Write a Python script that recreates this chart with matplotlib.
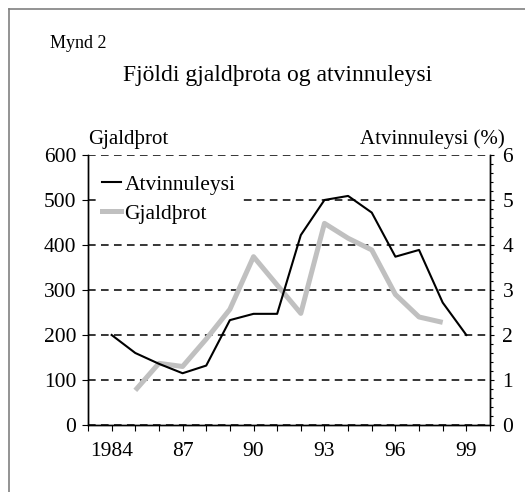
import matplotlib
matplotlib.use("Agg")
import matplotlib.pyplot as plt
from matplotlib.lines import Line2D
from matplotlib.ticker import MultipleLocator

plt.rcParams['font.family'] = ['Liberation Serif', 'DejaVu Serif']

# Atvinnuleysi (%), right axis
years_atv = [1984, 1985, 1986, 1987, 1988, 1989, 1990, 1991, 1992,
             1993, 1994, 1995, 1996, 1997, 1998, 1999]
atvinnuleysi = [2.0, 1.6, 1.36, 1.15, 1.32, 2.33, 2.47, 2.47, 4.22,
                5.0, 5.09, 4.72, 3.74, 3.89, 2.72, 2.0]

# Gjaldþrot, left axis
years_gj = [1985, 1986, 1987, 1988, 1989, 1990, 1991, 1992,
            1993, 1994, 1995, 1996, 1997, 1998]
gjaldthrot = [77, 137, 130, 191, 257, 374, 311, 248,
              448, 415, 389, 290, 240, 228]

xtick_pos = [1984, 1987, 1990, 1993, 1996, 1999]
xtick_lab = ["1984", "87", "90", "93", "96", "99"]

fig = plt.figure(figsize=(5.25, 4.92), dpi=100)
ax = fig.add_axes([0.1676, 0.1362, 0.7657, 0.5488])
ax2 = ax.twinx()

ax.plot(years_gj, gjaldthrot, color="#c0c0c0", lw=3.6, solid_capstyle="butt")
ax2.plot(years_atv, atvinnuleysi, color="black", lw=1.5)

ax.set_xlim(1983, 2000)
ax.set_ylim(0, 600)
ax2.set_ylim(0, 6)

ax.set_yticks(range(0, 601, 100))
ax.set_xticks(range(1983, 2001))
ax.set_xticklabels(["" if y not in xtick_pos else xtick_lab[xtick_pos.index(y)]
                    for y in range(1983, 2001)])
ax2.set_yticks(range(0, 7))
ax2.yaxis.set_minor_locator(MultipleLocator(0.2))

ax.grid(axis="y", color="black", lw=1.1, linestyle=(0, (5, 3.5)))
ax.set_axisbelow(True)

for a in (ax, ax2):
    a.spines["top"].set_visible(False)
    for s in ("left", "right", "bottom"):
        a.spines[s].set_linewidth(1.0)

ax.tick_params(axis="y", direction="out", length=4.5, width=0.8, labelsize=15.5, pad=4)
ax.tick_params(axis="x", direction="out", length=4.5, width=0.8, labelsize=15.5, pad=8)
ax2.tick_params(axis="y", which="major", direction="out", length=3, width=0.8,
                labelsize=15.5, pad=6)
ax2.tick_params(axis="y", which="minor", direction="out", length=2, width=0.8)

handles = [Line2D([], [], color="black", lw=1.5),
           Line2D([], [], color="#c0c0c0", lw=3.6)]
leg = ax2.legend(handles, ["Atvinnuleysi", "Gjaldþrot"], loc="upper left",
                 bbox_to_anchor=(-0.008, 0.99), fontsize=15.5, frameon=True,
                 handlelength=0.9, handletextpad=0.15, labelspacing=0.4,
                 borderaxespad=0.5, borderpad=0.3)
leg.get_frame().set_facecolor("white")
leg.get_frame().set_edgecolor("none")
leg.get_frame().set_alpha(1)

fig.text(88 / 525, 1 - 144 / 492, "Gjaldþrot", fontsize=15, ha="left", va="baseline")
fig.text(505 / 525, 1 - 144 / 492, "Atvinnuleysi (%)", fontsize=15, ha="right", va="baseline")
fig.text(50 / 525, 1 - 48 / 492, "Mynd 2", fontsize=13, ha="left", va="baseline")
fig.text(278 / 525, 1 - 81 / 492, "Fjöldi gjaldþrota og atvinnuleysi", fontsize=17,
         ha="center", va="baseline")

# outer frame, top and left edges only
fig.add_artist(Line2D([9 / 525, 1], [1 - 9 / 492, 1 - 9 / 492], color="#808080",
                      lw=1.2, transform=fig.transFigure))
fig.add_artist(Line2D([9 / 525, 9 / 525], [0, 1 - 9 / 492], color="#808080",
                      lw=1.2, transform=fig.transFigure))

fig.savefig("out.png", dpi=100)
